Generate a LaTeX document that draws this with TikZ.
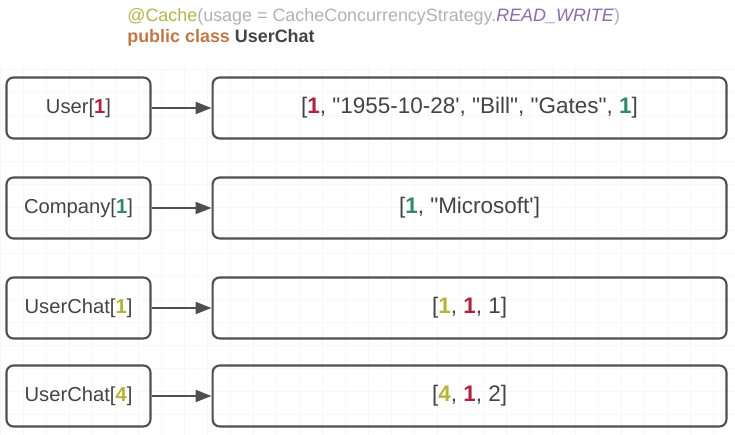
\documentclass[tikz,border=0pt]{standalone}
\usepackage{fontspec}
\setmainfont{Liberation Sans}[Ligatures=TeXOff]
\usetikzlibrary{positioning,arrows.meta}

\definecolor{boxline}{HTML}{4F4F4F}
\definecolor{textgray}{HTML}{444444}
\definecolor{hdrgray}{HTML}{B2B2B2}
\definecolor{annot}{HTML}{B3B64C}
\definecolor{enumpurple}{HTML}{8D6BAE}
\definecolor{kwbrown}{HTML}{C07845}
\definecolor{idred}{HTML}{B0233D}
\definecolor{idgreen}{HTML}{2E8B6A}
\definecolor{idolive}{HTML}{B5B43A}

\newcommand{\idred}[1]{\textcolor{idred}{\textbf{#1}}}
\newcommand{\idgreen}[1]{\textcolor{idgreen}{\textbf{#1}}}
\newcommand{\idolive}[1]{\textcolor{idolive}{\textbf{#1}}}

\begin{document}
\begin{tikzpicture}[x=0.02cm,y=-0.02cm,node distance=1.2cm,
    key/.style={draw=boxline,line width=1.2pt,rounded corners=4pt,rectangle,
      minimum width=2.88cm,minimum height=1.22cm,inner sep=0pt,text=textgray,
      font=\fontsize{11.5}{13}\selectfont},
    val/.style={key,minimum width=10.28cm,font=\fontsize{12.8}{15}\selectfont},
    link/.style={draw=boxline,line width=1.1pt,-{Triangle[length=0.32cm,width=0.24cm]}}]
  \useasboundingbox (0,0) rectangle (735,435);
  \fill[white] (0,0) rectangle (735,435);
  \draw[black!3,step=0.46cm] (0,66) grid (735,435);

  % header
  \node[anchor=west,inner sep=0pt,font=\fontsize{10.2}{12}\selectfont] (annotation) at (127,17)
    {\textcolor{annot}{@Cache}\textcolor{hdrgray}{(usage = CacheConcurrencyStrategy.}\textcolor{enumpurple}{\textit{READ\_WRITE}}\textcolor{hdrgray}{)}};
  \node[anchor=west,inner sep=0pt,font=\fontsize{10.2}{12}\selectfont\bfseries] (classdecl) at (127,38)
    {\textcolor{kwbrown}{public class} \textcolor{textgray}{UserChat}};

  % cache regions
  \node[key] (user) at (78.5,108) {User[\idred{1}]};
  \node[val] (userval) [right=of user] {[\idred{1}, "1955-10-28', "Bill", "Gates", \idgreen{1}]};
  \node[key] (company) at (78.5,208) {Company[\idgreen{1}]};
  \node[val] (companyval) [right=of company] {[\idgreen{1}, "Microsoft']};
  \node[key] (chat1) at (78.5,308) {UserChat[\idolive{1}]};
  \node[val] (chat1val) [right=of chat1] {[\idolive{1}, \idred{1}, 1]};
  \node[key] (chat4) at (78.5,396) {UserChat[\idolive{4}]};
  \node[val] (chat4val) [right=of chat4] {[\idolive{4}, \idred{1}, 2]};

  \draw[link] (user) -- (userval);
  \draw[link] (company) -- (companyval);
  \draw[link] (chat1) -- (chat1val);
  \draw[link] (chat4) -- (chat4val);
\end{tikzpicture}
\end{document}
